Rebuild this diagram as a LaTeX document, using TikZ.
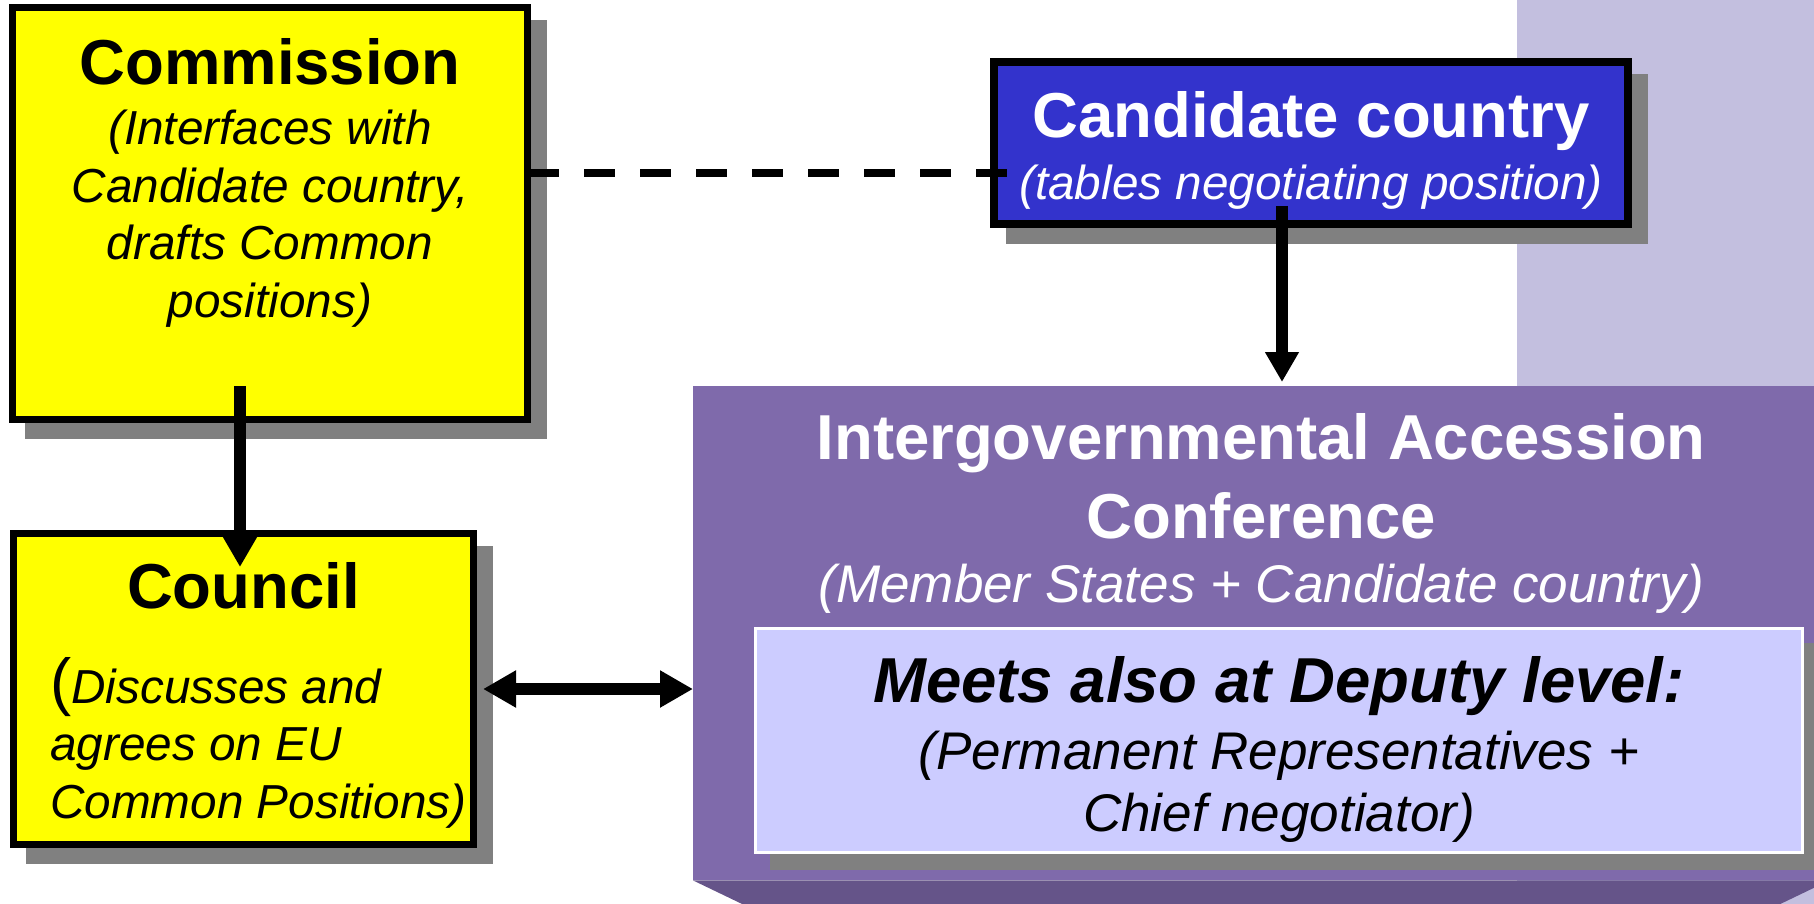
\documentclass[tikz,border=0pt]{standalone}
\usepackage{fontspec}
\setmainfont{Liberation Sans}
\usetikzlibrary{arrows.meta,calc,positioning,shadows}
\definecolor{accYellow}{HTML}{FFFF00}
\definecolor{accBlue}{HTML}{3333CC}
\definecolor{accPurple}{HTML}{7F6AAB}
\definecolor{accPurpleDark}{HTML}{655489}
\definecolor{accLavender}{HTML}{C3BFDF}
\definecolor{accLilac}{HTML}{CCCCFF}
\definecolor{accShadow}{HTML}{808080}

\begin{document}
\begin{tikzpicture}[x=1pt, y=-1pt,
  boxshadow/.style={drop shadow={shadow xshift=16pt, shadow yshift=-16pt, opacity=1,
      fill=accShadow, draw=accShadow, line width=#1}},
  shadedbox/.style={draw=black, inner sep=0pt, line width=#1, boxshadow=#1},
  headtext/.style={font=\bfseries\fontsize{63.5}{79}\selectfont, inner sep=0pt, anchor=base},
  notetext/.style={font=\itshape\fontsize{47.7}{57.5}\selectfont, inner sep=0pt, anchor=base},
  widenote/.style={font=\itshape\fontsize{53}{62}\selectfont, inner sep=0pt, anchor=base},
  arrowline/.style={line width=12pt, -{Triangle[length=30pt, width=32pt]}},
  bothways/.style={line width=12pt,
      {Triangle[length=33pt, width=35pt]}-{Triangle[length=33pt, width=35pt]}},
  linkdash/.style={line width=8pt, dash pattern=on 31pt off 25pt}]
  \useasboundingbox (0,0) rectangle (1814,904);

  % backdrop strip on the right
  \fill[accLavender] (1517,0) rectangle (1814,904);

  % conference block with its bevelled lower face
  % (multi-line texts sit on the baseline of their last line)
  \node[fill=accPurple, inner sep=0pt, minimum width=1136pt, minimum height=494pt,
    anchor=north west] (igc) at (693,386) {};
  \fill[accPurpleDark] (igc.south west) -- (igc.south east)
    -- ($(igc.south east)+(-52,25)$) -- ($(igc.south west)+(52,25)$) -- cycle;
  \node[headtext, text=white, align=center] (igctitle) at ([yshift=-152pt]igc.north)
    {Intergovernmental Accession\\Conference};
  \node[widenote, text=white] (igcnote) at ([yshift=-216pt]igc.north)
    {(Member States + Candidate country)};

  \node[fill=accLilac, draw=white, inner sep=0pt, line width=3pt, boxshadow=3pt,
    minimum width=1047pt, minimum height=224pt, anchor=north west] (deputy) at (754,627) {};
  \node[headtext, font=\bfseries\itshape\fontsize{63.5}{79}\selectfont] (deputytitle)
    at ([yshift=-75pt]deputy.north) {Meets also at Deputy level:};
  \node[widenote, align=center] (deputynote) at ([yshift=-204pt]deputy.north)
    {(Permanent Representatives +\\Chief negotiator)};

  % EU side
  \node[shadedbox=7pt, fill=accYellow, minimum width=515pt, minimum height=412pt,
    anchor=north west] (commission) at (9,4) {};
  \node[headtext] (commissiontitle) at ([yshift=-81pt]commission.north) {Commission};
  \node[notetext, align=center] (commissionnote) at ([yshift=-313pt]commission.north)
    {(Interfaces with\\Candidate country,\\drafts Common\\positions)};

  \node[shadedbox=7pt, fill=accYellow, minimum width=460pt, minimum height=311pt,
    anchor=north west] (council) at (10,530) {};
  \node[headtext] (counciltitle) at ([yshift=-78pt]council.north) {Council};
  \node[notetext, align=left, anchor=base west] (councilnote)
    at ([xshift=40pt, yshift=-288pt]council.north west)
    {{\upshape\fontsize{63.5}{57.5}\selectfont(}Discusses and\\agrees on EU\\Common Positions)};

  % candidate side
  \node[shadedbox=8pt, fill=accBlue, minimum width=634pt, minimum height=162pt,
    anchor=north west] (candidate) at (990,58) {};
  \node[headtext, text=white] (candidatetitle) at ([yshift=-80pt]candidate.north)
    {Candidate country};
  \node[notetext, text=white] (candidatenote) at ([yshift=-142pt]candidate.north)
    {(tables negotiating position)};

  % connectors
  \draw[linkdash] ([xshift=-3pt, yshift=40pt]commission.east) coordinate (dashstart)
    -- ($(dashstart -| candidate.west)+(17,0)$);
  \draw[arrowline] ([xshift=-30pt, yshift=37pt]commission.south) coordinate (downstart)
    -- ($(downstart |- council.north)+(0,37)$);
  \draw[arrowline] ([xshift=-29pt, yshift=22pt]candidate.south) coordinate (dropstart)
    -- ($(dropstart |- igc.north)+(0,-4)$);
  \draw[bothways] ([xshift=6pt]council.east) -- (council.east -| igc.west);
\end{tikzpicture}
\end{document}
